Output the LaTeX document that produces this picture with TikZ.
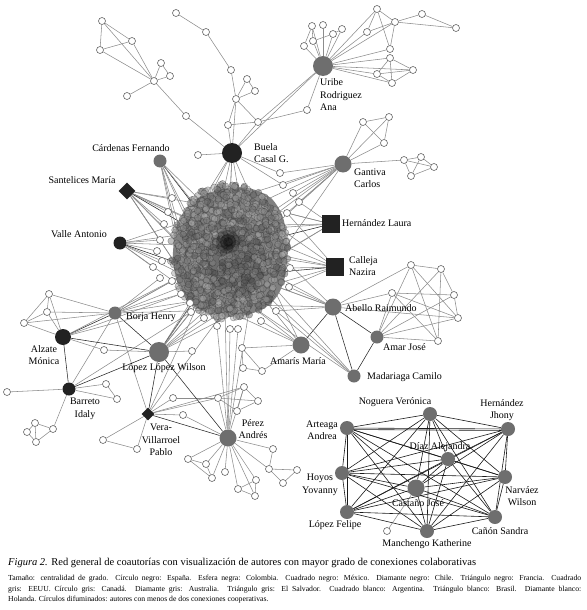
\documentclass[tikz,border=0pt]{standalone}
\usepackage{fontspec}
\setmainfont{Liberation Serif}
\usetikzlibrary{shapes.geometric}
\pgfdeclarelayer{edges}
\pgfdeclarelayer{blob}
\pgfsetlayers{edges,blob,main}
\definecolor{hubgray}{HTML}{6E6E6E}
\definecolor{hubblack}{HTML}{222222}
\definecolor{edgegray}{HTML}{8C8C8C}
\begin{document}
\begin{tikzpicture}[x=1pt,y=-1pt,
  wn/.style={circle, draw=black!60, fill=white, line width=0.6pt, minimum size=7pt, inner sep=0pt},
  gh/.style={circle, fill=hubgray, inner sep=0pt},
  bh/.style={circle, fill=hubblack, inner sep=0pt},
  bd/.style={diamond, fill=hubblack, inner sep=0pt},
  bs/.style={rectangle, fill=hubblack, inner sep=0pt, minimum size=18pt},
  ge/.style={draw=edgegray, line width=0.55pt},
  de/.style={draw=black!85, line width=0.55pt},
  lbl/.style={font=\fontsize{10}{12.5}\selectfont, inner sep=0pt, align=center},
  lbll/.style={font=\fontsize{10}{12.5}\selectfont, inner sep=0pt, align=left, anchor=west}]
\useasboundingbox (0,0) rectangle (586,610);

% ---------- blob interior coordinates
\coordinate (k1) at (205,205); \coordinate (k2) at (230,200); \coordinate (k3) at (255,205);
\coordinate (k4) at (275,225); \coordinate (k5) at (280,255); \coordinate (k6) at (272,285);
\coordinate (k7) at (250,305); \coordinate (k8) at (225,310); \coordinate (k9) at (200,300);
\coordinate (k10) at (183,275); \coordinate (k11) at (180,245); \coordinate (k12) at (190,220);
\coordinate (k13) at (228,250); \coordinate (k14) at (215,230); \coordinate (k15) at (245,230);
\coordinate (k16) at (245,275); \coordinate (k17) at (212,275);

% ---------- hubs
\node[gh, minimum size=20pt] (uribe) at (323,66) {};
\node[bh, minimum size=20pt] (buela) at (232,153) {};
\node[gh, minimum size=13pt] (cardenas) at (160,161) {};
\node[bd, minimum size=17pt] (santelices) at (127,191) {};
\node[gh, minimum size=17pt] (gantiva) at (343,164) {};
\node[bs] (hlaura) at (331,224) {};
\node[bs] (calleja) at (335,267) {};
\node[bh, minimum size=13pt] (valle) at (120,243) {};
\node[gh, minimum size=17pt] (abello) at (333,307) {};
\node[gh, minimum size=13pt] (amar) at (377,337) {};
\node[gh, minimum size=13pt] (madariaga) at (354,376) {};
\node[gh, minimum size=17pt] (amaris) at (301,345) {};
\node[gh, minimum size=13pt] (borja) at (115,313) {};
\node[bh, minimum size=16pt] (alzate) at (63,337) {};
\node[gh, minimum size=20pt] (lopez) at (159,352) {};
\node[bh, minimum size=13pt] (barreto) at (69,389) {};
\node[bd, minimum size=13pt] (vera) at (148,414) {};
\node[gh, minimum size=17pt] (perez) at (228,438) {};

% ---------- clique
\node[gh, minimum size=14pt] (c1) at (430,414) {};
\node[gh, minimum size=14pt] (c2) at (508,429) {};
\node[gh, minimum size=14pt] (c3) at (347,428) {};
\node[gh, minimum size=14pt] (c4) at (448,459) {};
\node[gh, minimum size=14pt] (c5) at (342,473) {};
\node[gh, minimum size=14pt] (c6) at (505,477) {};
\node[gh, minimum size=17pt] (c7) at (416,488) {};
\node[gh, minimum size=14pt] (c8) at (347,512) {};
\node[gh, minimum size=14pt] (c9) at (495,517) {};
\node[gh, minimum size=14pt] (c10) at (427,531) {};
\node[wn] (cw) at (387,531) {};

% ---------- white nodes
\foreach \n/\x/\y in {t1/102/21, t2/132/41, t3/100/50, t4/154/81, t5/161/63, t6/170/76, t7/127/96, t8/186/116,
  p1/176/13, p2/206/32, p3/231/70, p4/236/99, p5/247/79, p6/255/91, p7/228/125, p8/258/122, bw/198/155,
  u1/312/26, u2/323/25, u3/342/29, u4/333/34, u5/313/41, u6/304/46,
  v1/377/9, v2/395/22, v3/367/32, v4/390/49, v5/422/14, v6/456/28,
  w1/390/58, w2/413/70, w3/377/74, w4/392/83, uw/307/110,
  g1/363/122, g2/389/117, g3/384/143, h1/404/160, h2/421/157, h3/434/167, h4/411/176,
  n1/280/173, n2/283/185, n3/293/193, n4/299/202, n5/287/213, n6/290/268, n7/289/287,
  n8/172/198, n9/168/212, n10/164/224, n11/160/240, n12/157/251, n13/162/261, n14/153/267,
  n15/160/278, n16/172/281, n17/181/294, n18/190/303, n19/191/312, n20/204/318, n21/217/326,
  n22/230/329, n23/238/329, n24/261/321, n25/276/311, n26/192/351,
  a1/411/265, a2/441/269, a3/454/295, a4/458/318, a5/438/341, a6/392/293,
  m1/242/348, m2/243/368, m3/262/371,
  l1/49/294, l2/47/312, l3/24/323, l4/104/350,
  r1/7/392, r2/106/384, r3/117/399, r4/35/423, r5/27/432, r6/36/442, r7/53/429,
  x1/103/440, x2/137/449, x3/183/415, x4/173/398,
  e1/218/398, e2/244/387, e3/258/401, e4/237/411,
  f1/188/459, f2/206/464, f3/212/478, f4/225/472, f5/238/489, f6/256/480, f7/255/496,
  f8/273/449, f9/269/469, f10/283/483, f11/297/470}
  \node[wn] (\n) at (\x,\y) {};

% ---------- edges
\begin{pgfonlayer}{edges}
\foreach \a/\b in {t1/t2, t1/t3, t3/t2, t1/t4, t3/t4, t2/t4, t4/t5, t5/t6, t4/t6, t4/t7, t4/t8, t8/buela,
  p1/p2, p2/p3, p3/p4, p4/p5, p5/p6, p4/p6, p4/p7, p4/p8, p7/p8, p4/buela, p7/buela, p8/buela, p8/uribe,
  p8/uw, uw/uribe, bw/buela, buela/uribe,
  uribe/u1, uribe/u2, uribe/u3, uribe/u4, uribe/u5, uribe/u6, u1/u6, u1/u5, u5/u4, u4/u3,
  uribe/v1, uribe/v3, uribe/v2, uribe/v4, v1/v2, v1/v3, v1/v4, v3/v2, v2/v4, v2/v5, v5/v6, v2/v6,
  uribe/w1, uribe/w2, uribe/w3, uribe/w4, w1/w2, w1/w3, w1/w4, w3/w2, w3/w4, w4/w2,
  gantiva/g1, gantiva/g2, gantiva/g3, g1/g2, g1/g3, g2/g3, gantiva/h1, h1/h2, h2/h3, h1/h3, h1/h4, h4/h3, h2/h4,
  gantiva/n1, gantiva/n2, gantiva/n3, gantiva/n4, gantiva/n5, buela/n1, buela/n2,
  a1/a2, a2/a3, a3/a4, a1/a4, a1/a5, a6/a4, a6/a5, a2/a5, a6/a3, abello/a1, abello/a6, abello/a4,
  amar/a1, amar/a2, amar/a3, amar/a4, amar/a5, amar/a6,
  m1/m2, m2/m3, m1/m3, amaris/m1, amaris/m3,
  l1/l2, l1/l3, l2/l3, alzate/l1, alzate/l2, alzate/l3, borja/l1, borja/l2, borja/l3, alzate/l4,
  barreto/r1, barreto/r2, barreto/r3, barreto/r7, r2/r3, r4/r5, r5/r6, r4/r6, r4/r7, r6/r7,
  barreto/borja, barreto/n19, alzate/n17,
  vera/x1, vera/x2, x1/x2, vera/x3, vera/x4, vera/e1, vera/e2, vera/borja, x4/e1, x3/perez,
  e1/e2, e2/e3, e1/e3, e1/e4, e4/e3, e2/e4, perez/e1, perez/e2,
  perez/f1, perez/f2, perez/f3, f1/f2, f2/f3, f1/f3, perez/f4, perez/f5, perez/f6, perez/f7, f5/f6, f6/f7, f5/f7,
  perez/f8, perez/f9, f8/f9, f9/f10, f9/f11, f10/f11, perez/n22, perez/n21, perez/n23,
  lopez/n18, lopez/n19, lopez/n20, lopez/n26, lopez/l4, borja/n16, borja/n17, borja/n15,
  santelices/n8, santelices/n9, santelices/n10, santelices/n11, valle/n11, valle/n12, valle/n13, valle/n14,
  hlaura/n4, hlaura/n5, calleja/n5, calleja/n6, calleja/n7, abello/n7, abello/n25, amaris/n24, madariaga/n25,
  c7/cw}
  \draw[ge] (\a) -- (\b);
\foreach \a/\b in {borja/alzate, borja/lopez, alzate/lopez, alzate/barreto, barreto/lopez, vera/lopez, vera/perez,
  lopez/perez, abello/amar, amar/madariaga, abello/madariaga, abello/amaris, santelices/k13, cardenas/k13,
  valle/k17, hlaura/k13, calleja/k16, lopez/k13}
  \draw[de] (\a) -- (\b);
\foreach \b in {k1,k2,k3,k14,k15,k13,k12} \draw[ge] (buela) -- (\b);
\foreach \b in {k1,k12,k11,k14,k10,k9,k17} \draw[ge] (cardenas) -- (\b);
\foreach \b in {k12,k11,k10,k14,k1,k9,k17} \draw[ge] (santelices) -- (\b);
\foreach \b in {k11,k10,k9,k14,k12} \draw[ge] (valle) -- (\b);
\foreach \b in {k3,k4,k15,k2,k5,k13} \draw[ge] (gantiva) -- (\b);
\foreach \b in {k4,k5,k15,k3,k16} \draw[ge] (hlaura) -- (\b);
\foreach \b in {k5,k6,k15,k4,k13} \draw[ge] (calleja) -- (\b);
\foreach \b in {k6,k7,k16,k5,k13} \draw[ge] (abello) -- (\b);
\foreach \b in {k7,k6,k16} \draw[ge] (madariaga) -- (\b);
\foreach \b in {k7,k8,k16,k6} \draw[ge] (amaris) -- (\b);
\foreach \b in {k9,k10,k17,k8} \draw[ge] (borja) -- (\b);
\foreach \b in {k10,k9} \draw[ge] (alzate) -- (\b);
\foreach \b in {k8,k9,k17,k7,k16} \draw[ge] (lopez) -- (\b);
\foreach \b in {k8,k9} \draw[ge] (vera) -- (\b);
\foreach \b in {k8,k7} \draw[ge] (perez) -- (\b);
\foreach \b in {n17,n18,n16} \draw[ge] (k13) -- (\b);
\foreach \i in {1,...,9}{
  \pgfmathtruncatemacro\nx{\i+1}
  \foreach \j in {\nx,...,10} \draw[draw=black!90, line width=0.6pt] (c\i) -- (c\j);
}
\draw[draw=black!90, line width=0.6pt] ([yshift=-1.5pt]c3.center) -- ([yshift=-1.5pt]c2.center);
\end{pgfonlayer}

% ---------- blob
\begin{pgfonlayer}{blob}
\fill[black!50, rounded corners=14pt] (230,186) -- (262,190) -- (281,207) -- (288,240) -- (286,280) -- (272,306)
  -- (240,318) -- (207,315) -- (182,298) -- (172,265) -- (175,225) -- (193,198) -- cycle;
\pgfmathsetseed{11}
\foreach \i in {1,...,900}{
  \pgfmathsetmacro\ang{360*rnd}
  \pgfmathsetmacro\rad{sqrt(rnd)}
  \pgfmathsetmacro\px{229+59*\rad*cos(\ang)}
  \pgfmathsetmacro\py{252+69*\rad*sin(\ang)}
  \pgfmathtruncatemacro\sh{30+35*rnd}
  \draw[draw=black!80, line width=0.45pt, fill=black!\sh, fill opacity=0.5, draw opacity=0.45] (\px,\py) circle (3.3pt);
}
\fill[black, opacity=0.15] (236,262) ellipse (30pt and 36pt);
\fill[black, opacity=0.25] (228,242) circle (12pt);
\fill[black, opacity=0.35] (228,242) circle (8pt);
\fill[black, opacity=0.35] (228,242) circle (5pt);
\end{pgfonlayer}

% ---------- labels
\node[lbll] (lUribe) at (320,95) {Uribe\\Rodriguez\\Ana};
\node[lbll] (lBuela) at (254,153) {Buela\\Casal G.};
\node[lbl] (lCard) at (131,148) {Cárdenas Fernando};
\node[lbl] (lSant) at (82,180) {Santelices María};
\node[lbll] (lGant) at (354,178) {Gantiva\\Carlos};
\node[lbll] (lHL) at (342,223) {Hernández Laura};
\node[lbll] (lCal) at (349,266) {Calleja\\Nazira};
\node[lbl] (lValle) at (79,234) {Valle Antonio};
\node[lbll] (lAbe) at (345,308) {Abello Raimundo};
\node[lbll] (lAmar) at (383,347) {Amar José};
\node[lbll] (lMad) at (367,377) {Madariaga Camilo};
\node[lbl] (lAmaris) at (298,361) {Amarís María};
\node[lbl] (lBorja) at (151,317) {Borja Henry};
\node[lbl] (lAlz) at (44,355) {Alzate\\Mónica};
\node[lbl] (lLop) at (164,368) {López López Wilson};
\node[lbl] (lBar) at (85,409) {Barreto\\Idaly};
\node[lbl] (lVera) at (161,440) {Vera-\\Villarroel\\Pablo};
\node[lbl] (lPer) at (253,429) {Pérez\\Andrés};
\node[lbl] (lc1) at (395,402) {Noguera Verónica};
\node[lbl] (lc2) at (502,410) {Hernández\\Jhony};
\node[lbl] (lc3) at (322,430) {Arteaga\\Andrea};
\node[lbl] (lc4) at (440,447) {Díaz Alejandra};
\node[lbl] (lc5) at (320,485) {Hoyos\\Yovanny};
\node[lbl] (lc6) at (522,496) {Narváez\\Wilson};
\node[lbl] (lc7) at (418,503) {Castaño José};
\node[lbl] (lc8) at (335,525) {López Felipe};
\node[lbl] (lc9) at (500,531) {Cañón Sandra};
\node[lbl] (lc10) at (427,544) {Manchengo Katherine};

% ---------- caption
\node[anchor=west, inner sep=0pt, font=\fontsize{10.5}{12}\selectfont] (cap) at (8,563)
  {\textit{Figura 2.} Red general de coautorías con visualización de autores con mayor grado de conexiones colaborativas};
\node[anchor=north west, inner sep=0pt, text width=573pt, align=justify, font=\fontsize{7.7}{10.5}\selectfont] (note) at (8,575)
  {Tamaño: centralidad de grado. Círculo negro: España. Esfera negra: Colombia. Cuadrado negro: México. Diamante negro: Chile. Triángulo negro: Francia. Cuadrado\linebreak
   gris: EEUU. Círculo gris: Canadá. Diamante gris: Australia. Triángulo gris: El Salvador. Cuadrado blanco: Argentina. Triángulo blanco: Brasil. Diamante blanco:\linebreak
   Holanda. Círculos difuminados: autores con menos de dos conexiones cooperativas.};
\end{tikzpicture}
\end{document}
